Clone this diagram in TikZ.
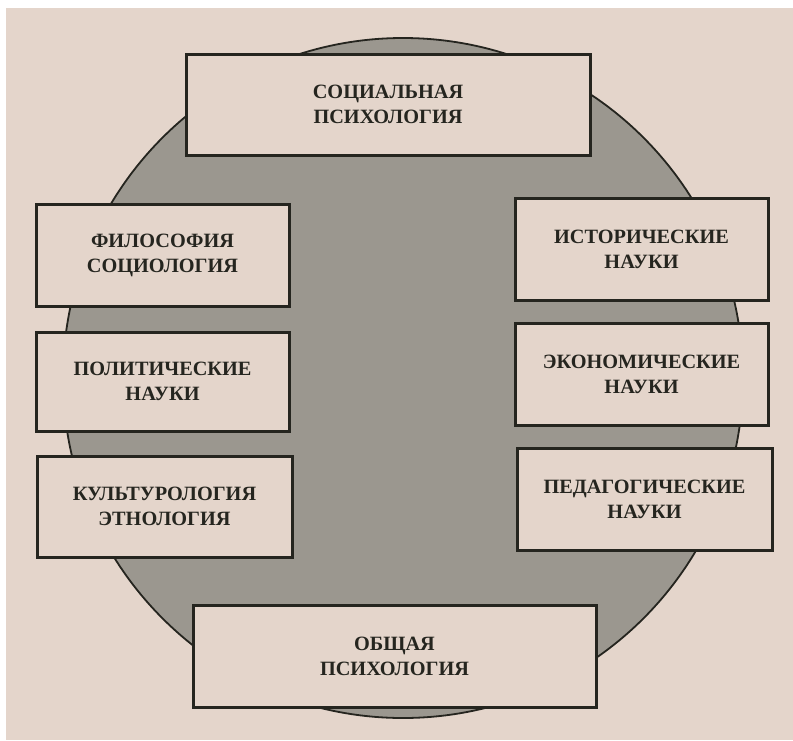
\documentclass[tikz,border=0pt]{standalone}
\usepackage{fontspec}
\setmainfont{Liberation Serif}
\definecolor{paper}{HTML}{E4D5CB}
\definecolor{disk}{HTML}{9B978F}
\definecolor{ink}{HTML}{25251F}
\tikzset{
  science/.style = {draw = ink, line width = 3pt, fill = paper, align = center,
    font = \fontsize{20.3}{25}\selectfont\bfseries, text = ink, inner sep = 0pt},
}
\begin{document}
\begin{tikzpicture}[x = 1pt, y = -1pt]
    \useasboundingbox (0, 0) rectangle (793, 740);
    \fill[paper] (6, 8) rectangle (793, 740);
    \filldraw[fill = disk, draw = ink, line width = 1.8pt] (403, 378) circle (340);
    \node[science, minimum width = 404, minimum height = 101] (social psychology) at (388, 104.5) {СОЦИАЛЬНАЯ \\ ПСИХОЛОГИЯ};
    \node[science, minimum width = 253, minimum height = 102] (philosophy sociology) at (162.5, 255) {ФИЛОСОФИЯ \\ СОЦИОЛОГИЯ};
    \node[science, minimum width = 253, minimum height = 99] (political sciences) at (162.5, 381.5) {ПОЛИТИЧЕСКИЕ \\ НАУКИ};
    \node[science, minimum width = 255, minimum height = 101] (culturology ethnology) at (164.5, 506.5) {КУЛЬТУРОЛОГИЯ \\ ЭТНОЛОГИЯ};
    \node[science, minimum width = 253, minimum height = 102] (historical sciences) at (641.5, 249) {ИСТОРИЧЕСКИЕ \\ НАУКИ};
    \node[science, minimum width = 253, minimum height = 102] (economic sciences) at (641.5, 374) {ЭКОНОМИЧЕСКИЕ \\ НАУКИ};
    \node[science, minimum width = 255, minimum height = 102] (pedagogical sciences) at (644.5, 499) {ПЕДАГОГИЧЕСКИЕ \\ НАУКИ};
    \node[science, minimum width = 403, minimum height = 102] (general psychology) at (394.5, 656) {ОБЩАЯ \\ ПСИХОЛОГИЯ};
  \end{tikzpicture}
\end{document}
